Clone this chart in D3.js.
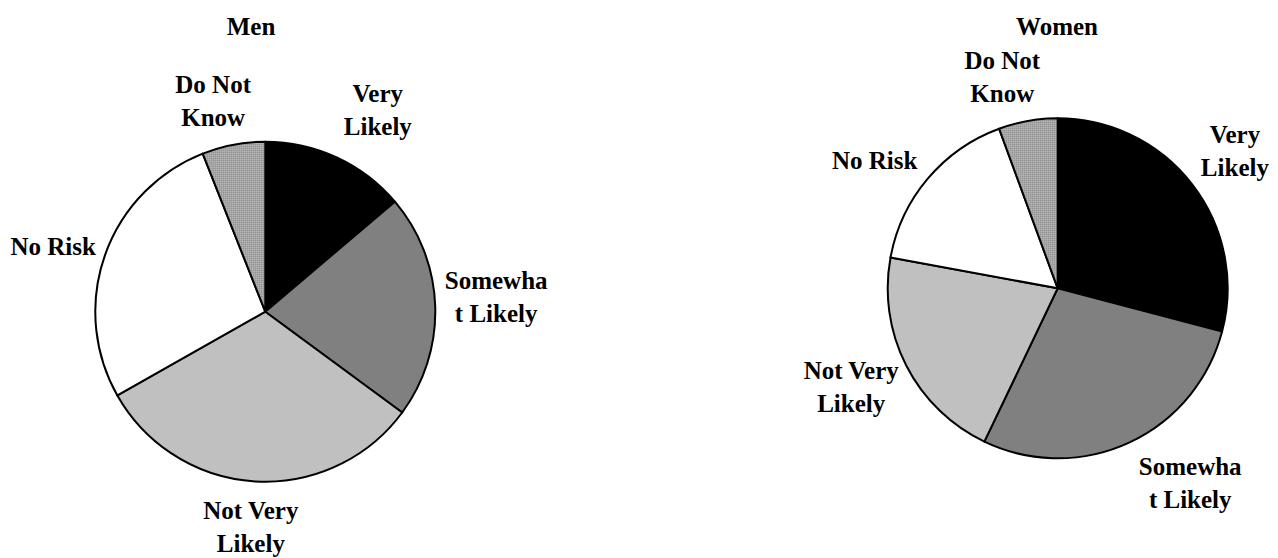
<!DOCTYPE html>
<html>
<head>
<meta charset="utf-8">
<script src="https://cdnjs.cloudflare.com/ajax/libs/d3/7.8.5/d3.min.js"></script>
<style>
  html, body { margin: 0; padding: 0; background: #fff; }
  svg { display: block; }
  text { font-family: "Liberation Serif", "Times New Roman", serif; font-weight: bold; fill: #000; }
</style>
</head>
<body>
<div id="chart"></div>
<script>
// ---- data ----
const categories = ["Very Likely", "Somewhat Likely", "Not Very Likely", "No Risk", "Do Not Know"];
const labelLines = [["Very", "Likely"], ["Somewha", "t Likely"], ["Not Very", "Likely"], ["No Risk"], ["Do Not", "Know"]];
const menValues = [13.8, 21.3, 31.7, 27.2, 6.0];
const womenValues = [29.1, 28.0, 20.8, 16.5, 5.6];
const chartTitles = ["Men", "Women"];

// ---- layout / style ----
const W = 1278, H = 558;
const radius = 170;
const fills = ["#000000", "#808080", "#c0c0c0", "#ffffff", "url(#dots)"];
const panels = [
  { title: chartTitles[0], values: menValues, cx: 265.3, cy: 311.7, titleX: 251, titleY: 35,
    nudge: [[18, 3], [6, -6], [-1, -9], [0, 10], [-10, 11]] },
  { title: chartTitles[1], values: womenValues, cx: 1057.7, cy: 288.3, titleX: 1057, titleY: 35,
    nudge: [[-1, 1], [38, -9], [-6, -3], [-11, 18], [-16, 11]] }
];
const labelRadius = 225;
const fontSize = 25, lineGap = 33;

const svg = d3.select("#chart").append("svg").attr("width", W).attr("height", H);
svg.append("rect").attr("width", W).attr("height", H).attr("fill", "#fff");

const defs = svg.append("defs");
const pat = defs.append("pattern").attr("id", "dots").attr("patternUnits", "userSpaceOnUse")
  .attr("width", 2).attr("height", 2);
pat.append("rect").attr("width", 2).attr("height", 2).attr("fill", "#b8b8b8");
pat.append("rect").attr("width", 1).attr("height", 1).attr("fill", "#6a6a6a");

const pie = d3.pie().sort(null).value(d => d).startAngle(0).endAngle(2 * Math.PI);
const arc = d3.arc().innerRadius(0).outerRadius(radius);
const labelArc = d3.arc().innerRadius(labelRadius).outerRadius(labelRadius);

panels.forEach(p => {
  const g = svg.append("g").attr("transform", `translate(${p.cx},${p.cy})`);
  const arcs = pie(p.values);
  g.selectAll("path.slice").data(arcs).enter().append("path")
    .attr("class", "slice")
    .attr("d", arc)
    .attr("fill", (d, i) => fills[i])
    .attr("stroke", "#000")
    .attr("stroke-width", 2)
    .attr("stroke-linejoin", "round");

  arcs.forEach((d, i) => {
    const [lx, ly] = labelArc.centroid(d);
    const x = lx + p.nudge[i][0], y = ly + p.nudge[i][1];
    const lines = labelLines[i];
    const firstBaseline = y + 8 - (lines.length - 1) * lineGap / 2;
    const t = g.append("text").attr("text-anchor", "middle").attr("font-size", fontSize);
    lines.forEach((ln, k) => {
      t.append("tspan").attr("x", x).attr("y", firstBaseline + k * lineGap).text(ln);
    });
  });

  svg.append("text").attr("x", p.titleX).attr("y", p.titleY)
    .attr("text-anchor", "middle").attr("font-size", fontSize).text(p.title);
});
</script>
</body>
</html>
